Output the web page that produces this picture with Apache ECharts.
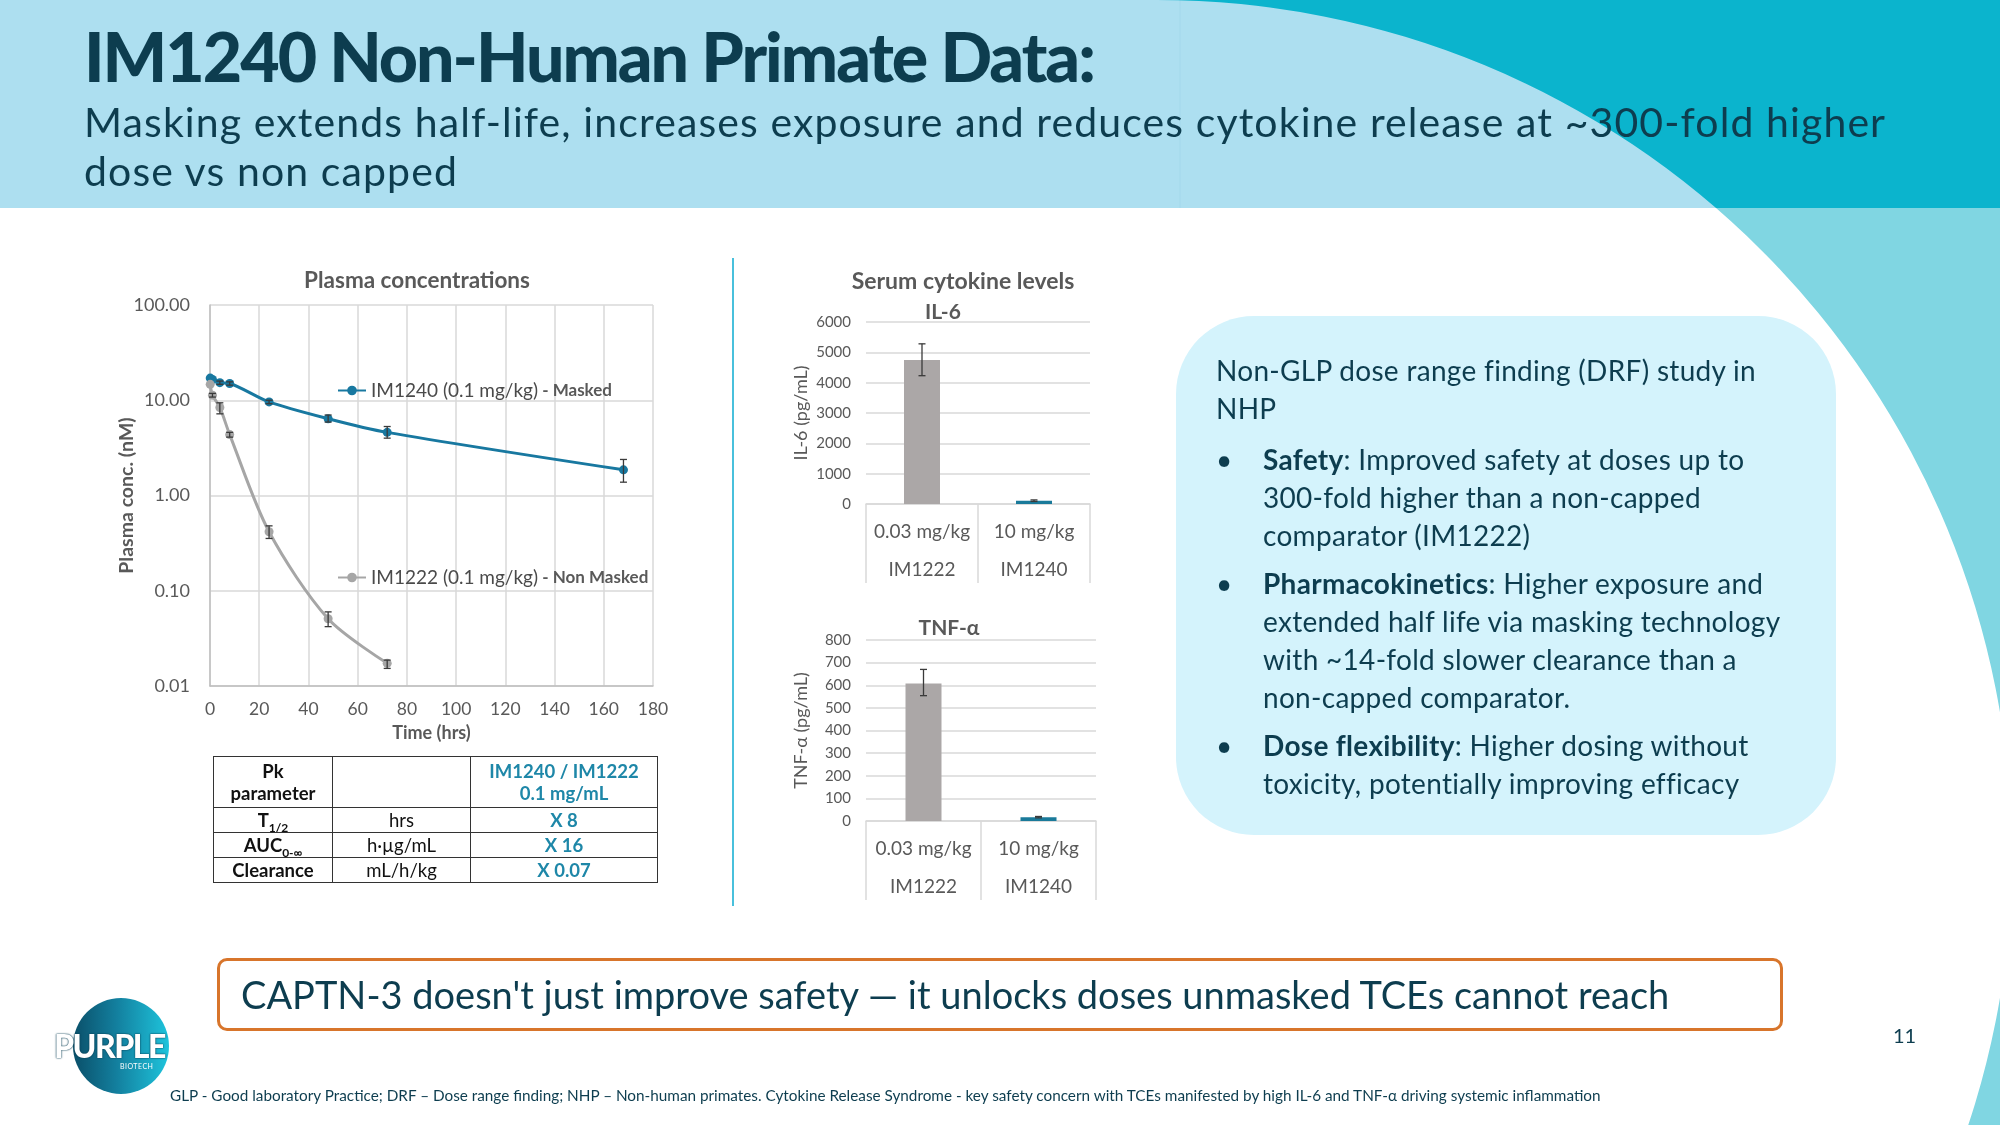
<!DOCTYPE html>
<html>
<head>
<meta charset="utf-8">
<title>IM1240 Non-Human Primate Data</title>
<script src="https://cdn.jsdelivr.net/npm/echarts@6/dist/echarts.min.js"></script>
<style>
  body { margin: 0; width: 2000px; height: 1125px; overflow: hidden; background: #fff;
         font-family: Lato, 'Noto Sans', sans-serif; color: #0d3d4f; position: relative; }
  #bg { position: absolute; left: 0; top: 0; z-index: 0; }
  #chart { position: absolute; left: 0; top: 0; width: 2000px; height: 1125px; z-index: 1; }
  .abs { position: absolute; z-index: 2; }
  #title { left: 84px; top: 20px; font-size: 68px; line-height: 72px; font-weight: 900; letter-spacing: -2px; white-space: nowrap; }
  #subtitle { left: 84px; top: 97px; font-size: 41px; line-height: 49px; letter-spacing: 1.1px; white-space: nowrap; }
  #divider { left: 732px; top: 258px; width: 2px; height: 648px; background: #48c0dc; }
  #pk { left: 213px; top: 756px; border-collapse: collapse; font-size: 18.5px; color: #111; }
  #pk td { border: 1.5px solid #333; text-align: center; padding: 0; line-height: 18px; }
  #pk .b { font-weight: 700; }
  #pk .t { font-weight: 700; color: #1e87a8; }
  #pk sub { font-size: 12px; line-height: 0; }
  #box { left: 1176px; top: 316px; width: 660px; height: 519px; background: #d4f3fc; border-radius: 78px; z-index: 1; }
  #boxtext { left: 1216px; top: 351px; font-size: 28px; line-height: 38px; letter-spacing: 0.3px; white-space: nowrap; }
  #boxtext p { margin: 0 0 13px 0; }
  #boxtext .li { position: relative; padding-left: 47px; margin: 0 0 10px 0; }
  #boxtext .li::before { content: '\2022'; position: absolute; left: 0; top: 0; }
  #callout { left: 217px; top: 958px; width: 1539px; height: 67px; border: 3px solid #d8752b; border-radius: 10px;
             font-size: 38px; line-height: 67px; padding-left: 21px; box-sizing: content-box; white-space: nowrap; }
  #page { left: 1893px; top: 1023px; font-size: 20px; }
  #logo { left: 73px; top: 998px; width: 96px; height: 96px; border-radius: 50%;
          background: linear-gradient(90deg, #0a4f69 0%, #137f9e 45%, #1ec4dc 100%); }
  #logotext { left: 54px; top: 1026px; font-size: 32px; font-weight: 900; color: #fff; letter-spacing: -1.5px;
              text-shadow: 0 0 2px #0a3f55, 0 0 1px #0a3f55; }
  #logosub { left: 120px; top: 1062px; font-size: 7px; color: #fff; letter-spacing: 0.5px; }
  #foot { left: 170px; top: 1086px; font-size: 15.3px; white-space: nowrap; }
</style>
</head>
<body>
<svg id="bg" width="2000" height="1125">
  <defs>
    <clipPath id="outside">
      <path clip-rule="evenodd" d="M1157 0H2000V1125H1157Z M302 855a855 855 0 1 0 1710 0a855 855 0 1 0 -1710 0Z"/>
    </clipPath>
  </defs>
  <rect x="0" y="0" width="2000" height="208" fill="#addff0"/>
  <line x1="1180" y1="0" x2="1180" y2="208" stroke="#a3d8eb" stroke-width="1"/>
  <g clip-path="url(#outside)">
    <rect x="1157" y="0" width="843" height="208" fill="#0bb4cd"/>
    <rect x="1157" y="208" width="843" height="917" fill="#80d6e2"/>
  </g>
</svg>

<div class="abs" id="title">IM1240 Non-Human Primate Data:</div>
<div class="abs" id="subtitle">Masking extends half-life, increases exposure and reduces cytokine release at ~300-fold higher<br>dose vs non capped</div>
<div class="abs" id="divider"></div>

<table class="abs" id="pk">
  <tr style="height:51px"><td class="b" style="width:118px;line-height:22px">Pk<br>parameter</td><td style="width:137px"></td><td class="t" style="width:186px;line-height:22px">IM1240 / IM1222<br>0.1 mg/mL</td></tr>
  <tr style="height:25px"><td class="b">T<sub>1/2</sub></td><td>hrs</td><td class="t">X 8</td></tr>
  <tr style="height:25px"><td class="b">AUC<sub>0-∞</sub></td><td>h·µg/mL</td><td class="t">X 16</td></tr>
  <tr style="height:25px"><td class="b">Clearance</td><td>mL/h/kg</td><td class="t">X 0.07</td></tr>
</table>

<div class="abs" id="box"></div>
<div class="abs" id="boxtext">
  <p>Non-GLP dose range finding (DRF) study in<br>NHP</p>
  <div class="li"><b>Safety</b>: Improved safety at doses up to<br>300-fold higher than a non-capped<br>comparator (IM1222)</div>
  <div class="li"><b>Pharmacokinetics</b>: Higher exposure and<br>extended half life via masking technology<br>with ~14-fold slower clearance than a<br>non-capped comparator.</div>
  <div class="li"><b>Dose flexibility</b>: Higher dosing without<br>toxicity, potentially improving efficacy</div>
</div>

<div class="abs" id="callout">CAPTN-3 doesn't just improve safety — it unlocks doses unmasked TCEs cannot reach</div>
<div class="abs" id="page">11</div>
<div class="abs" id="logo"></div>
<div class="abs" id="logotext">PURPLE</div>
<div class="abs" id="logosub">BIOTECH</div>
<div class="abs" id="foot">GLP -  Good laboratory Practice; DRF – Dose range finding; NHP – Non-human primates. Cytokine Release Syndrome - key safety concern with TCEs manifested by high IL-6 and TNF-α driving systemic inflammation</div>

<div id="chart"></div>

<script>
// plasma concentrations (nM) vs time (hrs)
var im1240Times = [0.083, 1, 4, 8, 24, 48, 72, 168];
var im1240Conc  = [17.1, 16.5, 15.3, 15.0, 9.6, 6.4, 4.6, 1.86];
var im1240Low   = [null, null, 14.7, 14.4, 9.2, 5.9, 4.0, 1.38];
var im1240High  = [null, null, 15.9, 15.6, 10.0, 7.0, 5.3, 2.39];

var im1222Times = [0.083, 1, 4, 8, 24, 48, 72];
var im1222Conc  = [14.7, 11.3, 8.4, 4.36, 0.416, 0.0508, 0.0173];
var im1222Low   = [null, 10.8, 7.2, 4.1, 0.354, 0.042, 0.0153];
var im1222High  = [null, 11.8, 9.4, 4.6, 0.48, 0.060, 0.0187];

var plasmaYTicks = [0.01, 0.1, 1, 10, 100];

// serum cytokines
var doseLabels    = ['0.03 mg/kg', '10 mg/kg'];
var productLabels = ['IM1222', 'IM1240'];
var il6Values  = [4750, 110];
var il6Low     = [4230, 85];
var il6High    = [5280, 135];
var tnfValues  = [608, 17];
var tnfLow     = [554, 14];
var tnfHigh    = [670, 20];

var txtGrey = '#595959';
var gridGrey = '#d9d9d9';
var fontFam = 'Lato, "Noto Sans", sans-serif';
var barColors = ['#aba7a7', '#1a7a9a'];

function zip(xs, ys) {
  return xs.map(function (x, i) { return [x, ys[i]]; });
}
function errRows(xs, lo, hi) {
  return xs.map(function (x, i) { return [x, lo[i], hi[i]]; })
           .filter(function (r) { return r[1] != null; });
}

// error bar with small caps
function errorBar(params, api) {
  var x = api.value(0);
  var top = api.coord([x, api.value(2)]);
  var bot = api.coord([x, api.value(1)]);
  var w = 3.5;
  var style = { stroke: '#3a3a3a', lineWidth: 1.3 };
  return {
    type: 'group',
    children: [
      { type: 'line', shape: { x1: top[0], y1: top[1], x2: bot[0], y2: bot[1] }, style: style },
      { type: 'line', shape: { x1: top[0] - w, y1: top[1], x2: top[0] + w, y2: top[1] }, style: style },
      { type: 'line', shape: { x1: bot[0] - w, y1: bot[1], x2: bot[0] + w, y2: bot[1] }, style: style }
    ]
  };
}

var categories = doseLabels.map(function (d, i) { return d + '\n' + productLabels[i]; });

function catAxis(idx) {
  return {
    gridIndex: idx,
    type: 'category',
    data: categories,
    axisLine: { show: true, lineStyle: { color: gridGrey, width: 1.5 } },
    axisTick: { show: true, length: 79, lineStyle: { color: gridGrey, width: 1.5 } },
    axisLabel: { color: txtGrey, fontSize: 19, lineHeight: 38, margin: 9, fontFamily: fontFam, interval: 0 },
    splitLine: { show: false }
  };
}
function valAxis(idx, max, step, name) {
  return {
    gridIndex: idx,
    type: 'value',
    min: 0, max: max, interval: step,
    axisLine: { show: false },
    axisTick: { show: false },
    axisLabel: { color: txtGrey, fontSize: 15, margin: 15, fontFamily: fontFam,
                 formatter: function (v) { return String(v); } },
    splitLine: { lineStyle: { color: gridGrey, width: 1.5 } },
    name: name,
    nameLocation: 'middle',
    nameGap: 56,
    nameTextStyle: { color: txtGrey, fontSize: 18, fontFamily: fontFam }
  };
}
function bars(idx, values) {
  return {
    type: 'bar', xAxisIndex: idx, yAxisIndex: idx, barWidth: 36,
    data: values.map(function (v, i) { return { value: v, itemStyle: { color: barColors[i] } }; })
  };
}
function barErrors(idx, lo, hi) {
  return {
    type: 'custom', xAxisIndex: idx, yAxisIndex: idx, z: 5,
    renderItem: errorBar, encode: { x: 0, y: [1, 2] },
    data: errRows([0, 1], lo, hi)
  };
}

var legendText = {
  color: txtGrey, fontFamily: fontFam,
  rich: {
    a: { fontSize: 19, color: '#4a4a4a', fontFamily: fontFam },
    b: { fontSize: 17, fontWeight: 'bold', color: txtGrey, fontFamily: fontFam }
  }
};
function legendFmt(name) {
  var p = name.split(' - ');
  return '{a|' + p[0] + '}{b| - ' + p[1] + '}';
}

var s1240 = 'IM1240 (0.1 mg/kg) - Masked';
var s1222 = 'IM1222 (0.1 mg/kg) - Non Masked';

var option = {
  animation: false,
  textStyle: { fontFamily: fontFam },
  graphic: [
    { type: 'text', x: 417, y: 281, style: { text: 'Plasma concentrations', textAlign: 'center', textVerticalAlign: 'middle', fill: txtGrey, font: 'bold 22.5px ' + fontFam } },
    { type: 'text', x: 963, y: 282, style: { text: 'Serum cytokine levels', textAlign: 'center', textVerticalAlign: 'middle', fill: txtGrey, font: 'bold 23px ' + fontFam } },
    { type: 'text', x: 943, y: 312, style: { text: 'IL-6', textAlign: 'center', textVerticalAlign: 'middle', fill: txtGrey, font: 'bold 21px ' + fontFam } },
    { type: 'text', x: 949, y: 628, style: { text: 'TNF-α', textAlign: 'center', textVerticalAlign: 'middle', fill: txtGrey, font: 'bold 21px ' + fontFam } }
  ],
  legend: [
    { data: [s1240], left: 337, top: 381, itemWidth: 28, itemHeight: 12, itemGap: 0, formatter: legendFmt, textStyle: legendText, padding: 0 },
    { data: [s1222], left: 337, top: 568, itemWidth: 28, itemHeight: 12, itemGap: 0, formatter: legendFmt, textStyle: legendText, padding: 0 }
  ],
  grid: [
    { left: 210, top: 305, width: 443, height: 381 },
    { left: 866, top: 322, width: 224, height: 182 },
    { left: 866, top: 640, width: 230, height: 181 }
  ],
  xAxis: [
    {
      gridIndex: 0, type: 'value', min: 0, max: 180, interval: 20,
      axisLine: { show: true, lineStyle: { color: '#bfbfbf', width: 1.5 } },
      axisTick: { show: false },
      axisLabel: { color: txtGrey, fontSize: 17.5, margin: 14, fontFamily: fontFam },
      splitLine: { show: true, lineStyle: { color: gridGrey, width: 1.5 } },
      name: 'Time (hrs)', nameLocation: 'middle', nameGap: 38,
      nameTextStyle: { color: txtGrey, fontSize: 18, fontWeight: 'bold', fontFamily: fontFam }
    },
    catAxis(1),
    catAxis(2)
  ],
  yAxis: [
    {
      gridIndex: 0, type: 'log', logBase: 10,
      min: plasmaYTicks[0], max: plasmaYTicks[plasmaYTicks.length - 1],
      axisLine: { show: true, lineStyle: { color: '#bfbfbf', width: 1.5 } },
      axisTick: { show: false },
      axisLabel: { color: txtGrey, fontSize: 18, margin: 20, fontFamily: fontFam,
                   formatter: function (v) { return Number(v).toFixed(2); } },
      splitLine: { show: true, lineStyle: { color: gridGrey, width: 1.5 } },
      name: 'Plasma conc. (nM)', nameLocation: 'middle', nameGap: 73, nameMoveOverlap: false,
      nameTextStyle: { color: txtGrey, fontSize: 19.5, fontWeight: 'bold', fontFamily: fontFam }
    },
    valAxis(1, 6000, 1000, 'IL-6 (pg/mL)'),
    valAxis(2, 800, 100, 'TNF-α (pg/mL)')
  ],
  series: [
    {
      name: s1240, type: 'line', xAxisIndex: 0, yAxisIndex: 0, smooth: 0.3,
      symbol: 'circle', symbolSize: 9,
      lineStyle: { color: '#1878a0', width: 3 },
      itemStyle: { color: '#1878a0' },
      data: zip(im1240Times, im1240Conc)
    },
    {
      name: s1222, type: 'line', xAxisIndex: 0, yAxisIndex: 0, smooth: 0.3,
      symbol: 'circle', symbolSize: 9,
      lineStyle: { color: '#a6a6a6', width: 3 },
      itemStyle: { color: '#a6a6a6' },
      data: zip(im1222Times, im1222Conc)
    },
    {
      type: 'custom', xAxisIndex: 0, yAxisIndex: 0, z: 5,
      renderItem: errorBar, encode: { x: 0, y: [1, 2] },
      data: errRows(im1240Times, im1240Low, im1240High)
    },
    {
      type: 'custom', xAxisIndex: 0, yAxisIndex: 0, z: 5,
      renderItem: errorBar, encode: { x: 0, y: [1, 2] },
      data: errRows(im1222Times, im1222Low, im1222High)
    },
    bars(1, il6Values),
    barErrors(1, il6Low, il6High),
    bars(2, tnfValues),
    barErrors(2, tnfLow, tnfHigh)
  ]
};

var chart = echarts.init(document.getElementById('chart'));
chart.setOption(option);
</script>
</body>
</html>
